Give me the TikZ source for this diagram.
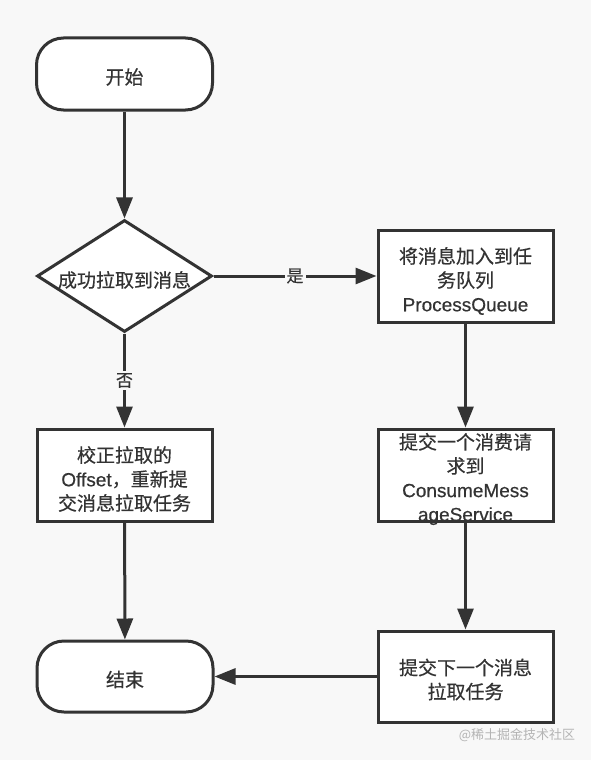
\documentclass[tikz,border=0pt]{standalone}
\usepackage{fontspec}
\setmainfont{Liberation Sans}[FakeBold=0.5]
\newfontfamily\cjk{Noto Sans CJK SC}[FakeBold=0.5]
\newfontfamily\cjkplain{Noto Sans CJK SC}
\usetikzlibrary{shapes.geometric,arrows.meta}
\definecolor{ink}{HTML}{333333}
\definecolor{bg}{HTML}{F8F8F8}
\definecolor{wm}{HTML}{B4B4B4}
\tikzset{
  base/.style={draw=ink, line width=3pt, fill=white, inner sep=0pt},
  term/.style={base, rounded corners=27pt, minimum width=176pt, minimum height=72pt},
  proc/.style={base, minimum width=175pt, minimum height=92pt},
  decide/.style={base, diamond, minimum width=175pt, minimum height=112pt, aspect=1.5625},
  txt/.style={text=ink, align=center, inner sep=0pt, font=\fontsize{19}{24}\selectfont},
  conn/.style={draw=ink, line width=3pt, -{Triangle[length=21pt,width=16pt]}},
  lbl/.style={fill=bg, text=ink, inner sep=2pt, font=\fontsize{17}{20}\selectfont\cjk}
}
\begin{document}
\begin{tikzpicture}[x=1pt,y=-1pt]
\fill[bg] (0,0) rectangle (591,760);
\useasboundingbox (0,0) rectangle (591,760);
\node[term] (start) at (124.5,74) {};
\node[decide] (dec) at (124.5,276) {};
\node[proc] (b1) at (465.5,276) {};
\node[proc] (b0) at (124.5,475) {};
\node[proc] (b2) at (465.5,475) {};
\node[proc, minimum height=91pt] (b3) at (465.5,676.5) {};
\node[term, minimum height=71pt] (end) at (125,676.5) {};
\node[txt] (startt) at ([yshift=-3pt]start.center) {\cjk 开始};
\node[txt] (dect) at ([yshift=-4pt]dec.center) {\cjk 成功拉取到消息};
\node[txt] (b1t) at ([yshift=-5pt]b1.center) {{\cjk 将消息加入到任}\\{\cjk 务队列}\\ProcessQueue};
\node[txt] (b0t) at ([yshift=-4pt]b0.center) {{\cjk 校正拉取的}\\Offset{\cjk ，重新提}\\{\cjk 交消息拉取任务}};
\node[txt] (b2t) at ([yshift=-4pt]b2.center) {{\cjk 提交一个消费请}\\{\cjk 求到}\\ConsumeMess\\ageService};
\node[txt] (b3t) at ([yshift=-3pt]b3.center) {{\cjk 提交下一个消息}\\{\cjk 拉取任务}};
\node[txt] (endt) at ([yshift=-3pt]end.center) {\cjk 结束};
\draw[conn] (start) -- (dec);
\draw[conn] (dec) -- node[lbl] {是} (b1);
\draw[conn] (dec) -- node[lbl] {否} (b0);
\draw[conn] (b0) -- (end);
\draw[conn] (b1) -- (b2);
\draw[conn] (b2) -- (b3);
\draw[conn] (b3) -- (end);
\node[text=wm, font=\fontsize{13}{15}\selectfont\cjkplain, inner sep=0pt] (wmk) at (517,735) {@稀土掘金技术社区};
\end{tikzpicture}
\end{document}
